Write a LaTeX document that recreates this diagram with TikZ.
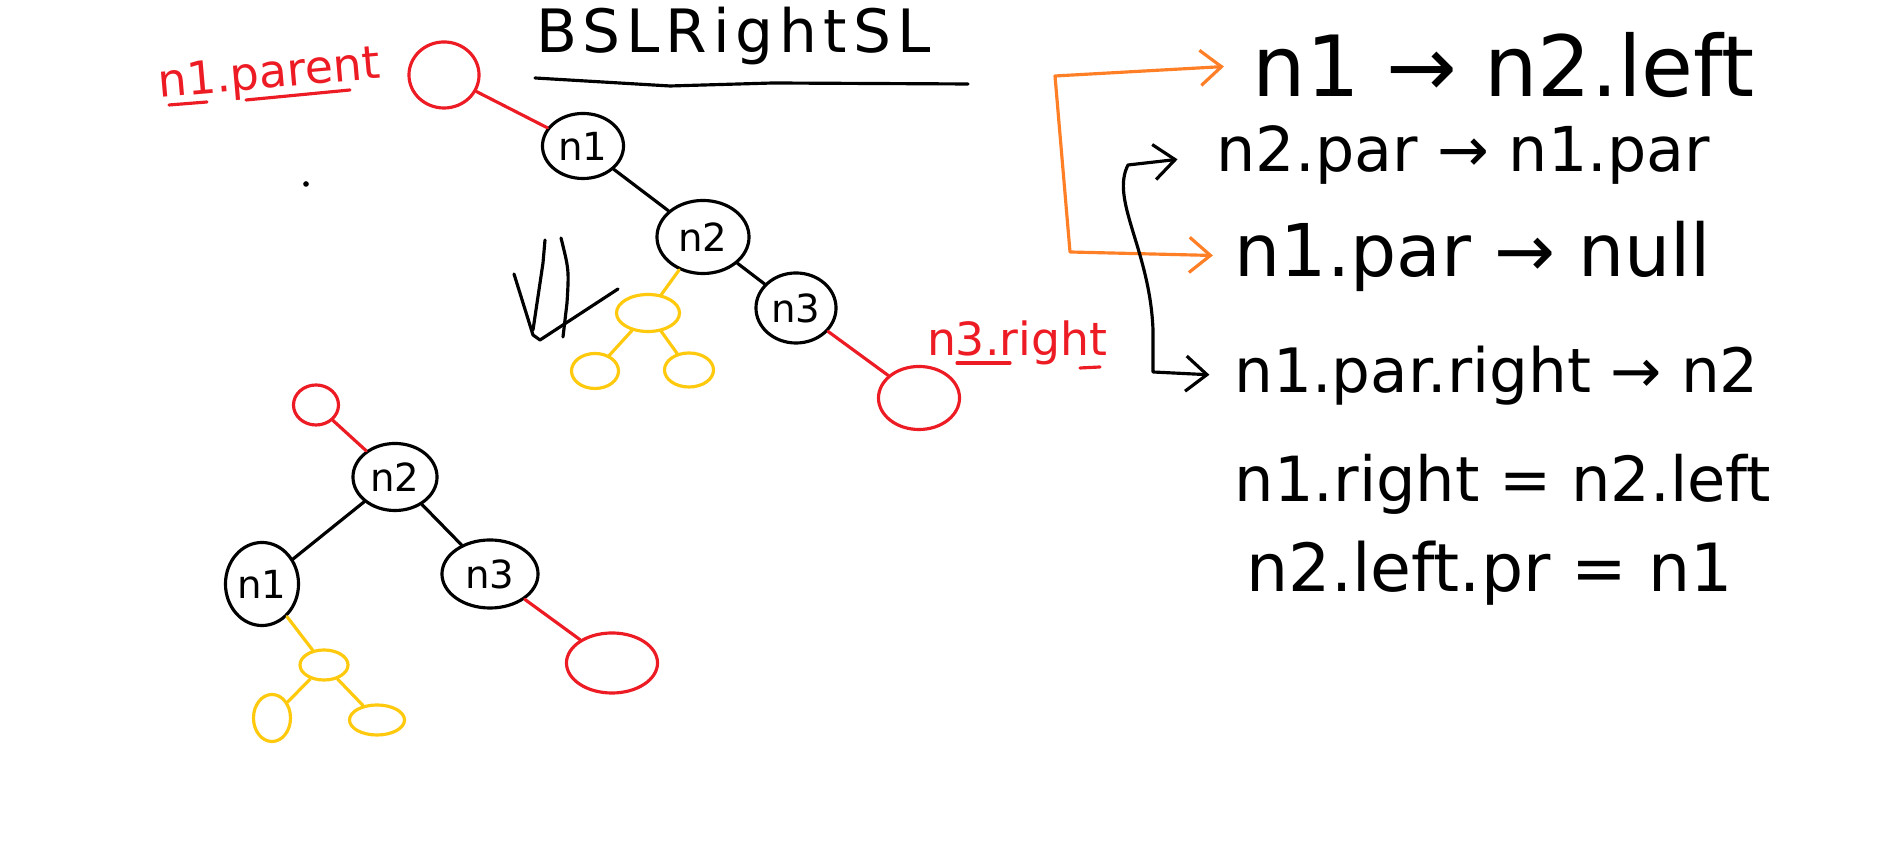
\documentclass[tikz,border=0pt]{standalone}
\usepackage{fontspec}
\setmainfont{DejaVu Sans}
\usetikzlibrary{shapes.geometric,arrows.meta}

\definecolor{pRed}{RGB}{237,28,36}
\definecolor{pGold}{RGB}{255,201,14}
\definecolor{pOrange}{RGB}{255,127,39}

\tikzset{
  ink/.style={line width=0.9pt, line cap=round, line join=round},
  bnode/.style={ellipse, draw, ink, inner sep=0pt, font=\fontsize{11}{11}\selectfont},
  rnode/.style={ellipse, draw=pRed, ink, inner sep=0pt},
  ynode/.style={ellipse, draw=pGold, ink, inner sep=0pt},
  rule/.style={inner sep=0pt, anchor=west},
  tips/.style={{Straight Barb[length=6pt,width=10pt]}-{Straight Barb[length=6pt,width=10pt]}},
}

\begin{document}
\begin{tikzpicture}[x=0.01cm, y=-0.01cm]
\useasboundingbox[fill=white] (0,0) rectangle (1888,862);

% title
\node[inner sep=0pt, anchor=west, font=\fontsize{17}{17}\selectfont\addfontfeatures{LetterSpace=10}] (title) at (536,36) {BSLRightSL};
\draw[ink] (535,78) -- (670,86) -- (773,83) -- (968,84);

% before the rotation
\node[rnode, minimum width=0.70cm, minimum height=0.66cm] (aP) at (444,75) {};
\node[bnode, minimum width=0.81cm, minimum height=0.65cm] (aN1) at (583,146) {n1};
\node[bnode, minimum width=0.92cm, minimum height=0.73cm] (aN2) at (703,237) {n2};
\node[bnode, minimum width=0.80cm, minimum height=0.70cm] (aN3) at (796,308) {n3};
\node[rnode, minimum width=0.81cm, minimum height=0.63cm] (aR) at (919,398) {};
\node[ynode, minimum width=0.63cm, minimum height=0.37cm] (aY) at (648,313) {};
\node[ynode, minimum width=0.47cm, minimum height=0.35cm] (aYL) at (595,371) {};
\node[ynode, minimum width=0.49cm, minimum height=0.34cm] (aYR) at (689,370) {};

\node[text=pRed, rotate=5, font=\fontsize{13}{13}\selectfont] (tPar) at (269,76) {n1.parent};
\draw[ink, pRed] (169,105) -- (207,102);
\draw[ink, pRed] (246,100) -- (350,90);
\node[text=pRed, font=\fontsize{13}{13}\selectfont] (tRt) at (1017,343) {n3.right};
\draw[ink, pRed] (957,363) -- (1010,363);
\draw[ink, pRed] (1080,368) -- (1100,367);

% scribble
\draw[ink] (514,274) -- (533,335) -- (540,340) -- (618,289);
\draw[ink] (545,240) -- (543,263) -- (533,330);
\draw[ink] (561,238) .. controls (569,270) .. (567,303) -- (563,337);
\fill (306,184) circle (0.8pt);

% after the rotation
\node[rnode, minimum width=0.45cm, minimum height=0.40cm] (bP) at (316,405) {};
\node[bnode, minimum width=0.84cm, minimum height=0.67cm] (bN2) at (395,477) {n2};
\node[bnode, minimum width=0.73cm, minimum height=0.83cm] (bN1) at (262,584) {n1};
\node[bnode, minimum width=0.96cm, minimum height=0.68cm] (bN3) at (490,574) {n3};
\node[rnode, minimum width=0.91cm, minimum height=0.60cm] (bR) at (612,663) {};
\node[ynode, minimum width=0.48cm, minimum height=0.30cm] (bY) at (324,665) {};
\node[ynode, minimum width=0.37cm, minimum height=0.47cm] (bYL) at (272,718) {};
\node[ynode, minimum width=0.55cm, minimum height=0.30cm] (bYR) at (377,720) {};

\foreach \a/\b/\c in {aP/aN1/pRed, aN1/aN2/black, aN2/aN3/black, aN3/aR/pRed,
    aN2/aY/pGold, aY/aYL/pGold, aY/aYR/pGold,
    bP/bN2/pRed, bN2/bN1/black, bN2/bN3/black, bN3/bR/pRed,
    bN1/bY/pGold, bY/bYL/pGold, bY/bYR/pGold}
{
	\draw[ink, \c] (\a) -- (\b);
}

% pointer steps
\foreach \n/\x/\y/\s/\t in {1/1252/65/24/{n1 → n2.left}, 2/1216/155/17.6/{n2.par → n1.par},
    3/1234/256/20.7/{n1.par → null}, 4/1234/376/17.4/{n1.par.right → n2},
    5/1234/484/17.7/{n1.right = n2.left}, 6/1246/573/18.9/{n2.left.pr = n1}}
{
	\node[rule, font=\fontsize{\s}{\s}\selectfont] (s\n) at (\x,\y) {\t};
}

\coordinate (oTop) at (1055,76);
\coordinate (oBot) at (1070,252);
\draw[ink, pOrange, tips, shorten <=8pt, shorten >=6pt] (s1.west) -- (oTop) -- (oBot) -- (s3.west);

\coordinate (kTop) at (1128,165);
\coordinate (kMid) at (1153,330);
\coordinate (kBot) at (1153,372);
\draw[ink, tips, shorten <=11pt, shorten >=7pt] (s2.west) -- (kTop)
    .. controls (1110,200) and (1150,250) .. (kMid) -- (kBot) -- (s4.west);
\end{tikzpicture}
\end{document}
